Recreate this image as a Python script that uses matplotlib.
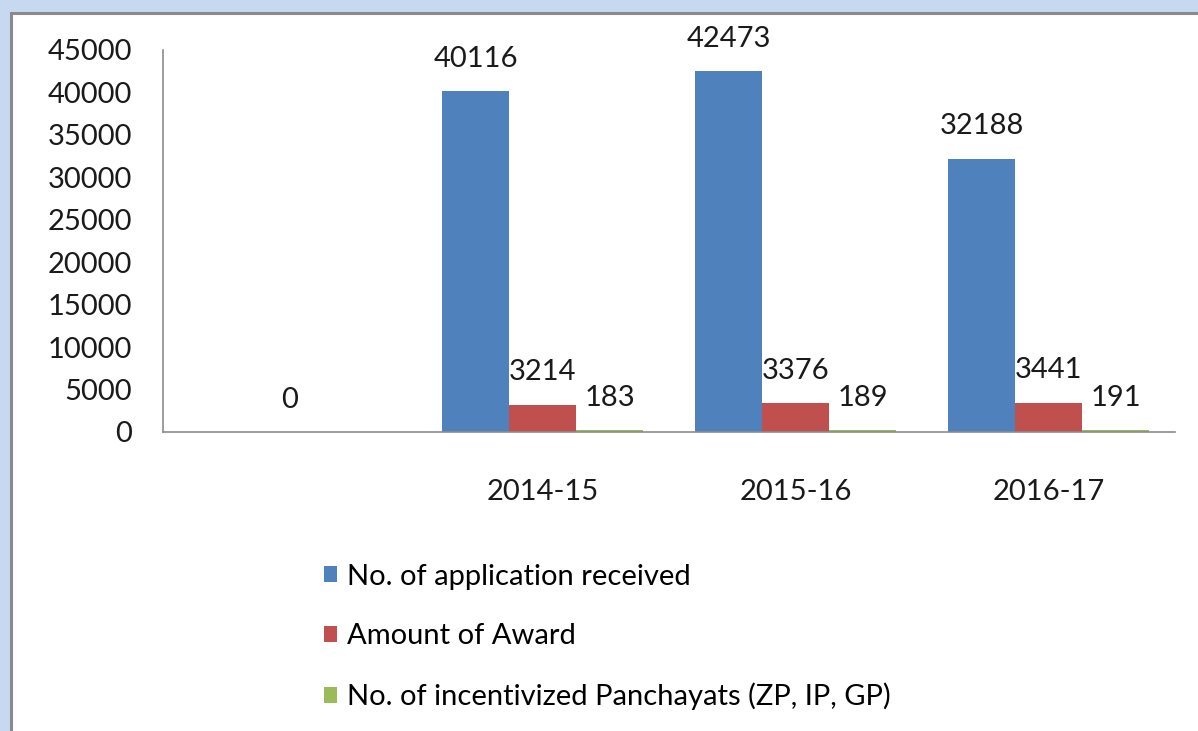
from matplotlib import pyplot as plt
from matplotlib.patches import Rectangle
import numpy as np

# Data
categories = ['', '2014-15', '2015-16', '2016-17']
applications = [np.nan, 40116, 42473, 32188]
award = [0, 3214, 3376, 3441]
panchayats = [np.nan, 183, 189, 191]
y_ticks = [0, 5000, 10000, 15000, 20000, 25000, 30000, 35000, 40000, 45000]

series = [
    ('No. of application received', applications, '#4f81bd'),
    ('Amount of Award', award, '#c0504d'),
    ('No. of incentivized Panchayats (ZP, IP, GP)', panchayats, '#9bbb59'),
]

plt.rcParams['font.family'] = ['Lato', 'DejaVu Sans']

W, H = 1198, 731
fig = plt.figure(figsize=(W / 100, H / 100), dpi=100)
fig.patch.set_facecolor('#c6d9f1')

# white chart area with grey frame (top/left edges visible)
frame = Rectangle((10.5 / W, -0.2), 1.2, 1.2 - 12.5 / H,
                  transform=fig.transFigure, facecolor='white',
                  edgecolor='#8a8a8a', lw=2.2, zorder=-10)
fig.patches.append(frame)

ax = fig.add_axes([163 / W, 1 - 432 / H, (1175 - 163) / W, (432 - 50) / H])
ax.set_facecolor('none')

x = np.arange(len(categories))
width = 0.265
handles = []
for i, (name, vals, color) in enumerate(series):
    pos = x + (i - 1) * width
    b = ax.bar(pos, vals, width, color=color, label=name)
    handles.append(b)
    for p, v in zip(pos, vals):
        if np.isnan(v):
            continue
        ax.annotate(f'{int(v)}', (p, v),
                    xytext=(0, 17.5), textcoords='offset points',
                    ha='center', va='baseline', fontsize=21, color='#1a1a1a')

ax.set_xlim(-0.5, len(categories) - 0.5)
ax.set_ylim(0, 45000)
ax.set_yticks(y_ticks)
ax.set_yticklabels([str(t) for t in y_ticks])
ax.set_xticks(x)
ax.set_xticklabels(categories)
ax.tick_params(axis='y', length=0, pad=22, labelsize=21, labelcolor='#1a1a1a')
ax.tick_params(axis='x', length=0, pad=34, labelsize=21, labelcolor='#1a1a1a')

for s in ['top', 'right']:
    ax.spines[s].set_visible(False)
for s in ['left', 'bottom']:
    ax.spines[s].set_color('#8c8c8c')
    ax.spines[s].set_linewidth(1.2)

fig.legend(handles, [s[0] for s in series], loc='upper left',
           bbox_to_anchor=(312 / W, 1 - 552 / H), frameon=False,
           fontsize=21, handlelength=0.45, handleheight=0.45,
           handletextpad=0.35, labelspacing=1.15, borderaxespad=0)

plt.savefig('out.png', dpi=100, facecolor=fig.get_facecolor())
